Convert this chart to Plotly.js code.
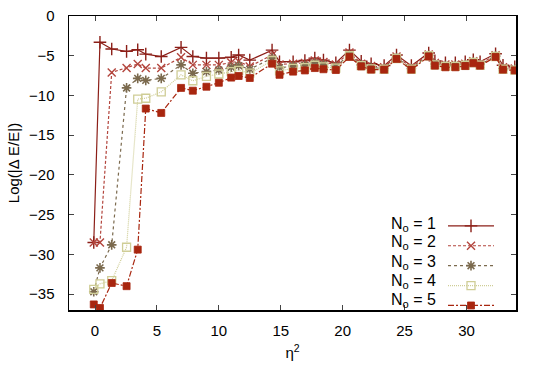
<!DOCTYPE html>
<html>
<head>
<meta charset="utf-8">
<script src="https://cdn.plot.ly/plotly-3.0.1.min.js"></script>
<style>
  html, body { margin: 0; padding: 0; background: #fff; }
  #chart { width: 540px; height: 372px; }
</style>
</head>
<body>
<div id="chart"></div>
<script>
// eta^2 values shared by every curve
const eta2 = [-0.1, 0.4, 1.35, 2.55, 3.45, 4.1, 5.35, 6.95, 7.9, 9.0, 10.0, 11.0, 11.6, 12.5,
  14.3, 14.9, 16.0, 16.95, 17.75, 18.45, 19.45, 20.55, 21.5, 22.3, 23.35, 24.35, 25.55,
  26.95, 27.45, 28.3, 29.1, 29.9, 30.55, 31.1, 32.35, 32.95, 33.9];

const no1 = [-28.5, -3.3, -4.15, -4.45, -4.25, -4.8, -5.1, -3.95, -5.1, -5.3, -5.3, -5.2, -4.9, -5.55,
  -4.3, -5.75, -5.75, -5.6, -5.3, -5.55, -5.9, -4.3, -5.7, -6.0, -6.25, -4.9, -6.25,
  -4.65, -5.65, -5.9, -5.9, -5.75, -5.5, -5.75, -4.75, -6.2, -6.4];
const no2 = [-28.5, -28.5, -7.1, -6.55, -6.05, -6.55, -6.55, -5.2, -6.15, -6.15, -6.15, -5.85, -5.7, -6.35,
  -4.9, -6.1, -6.0, -5.9, -5.6, -5.8, -6.1, -4.6, -6.0, -6.3, -6.45, -5.1, -6.45,
  -4.85, -5.9, -6.1, -6.1, -6.0, -5.7, -6.0, -4.95, -6.45, -6.6];
const no3 = [-34.7, -31.7, -28.8, -9.05, -7.85, -8.1, -7.85, -6.15, -7.2, -7.0, -6.8, -6.45, -6.25, -6.7,
  -5.3, -6.5, -6.3, -6.2, -5.9, -6.1, -6.35, -4.85, -6.15, -6.5, -6.6, -5.25, -6.6,
  -4.95, -6.05, -6.25, -6.25, -6.1, -5.8, -6.1, -5.05, -6.6, -6.7];
const no4 = [-34.4, -33.7, -33.3, -29.1, -10.45, -10.35, -9.55, -7.4, -8.15, -7.6, -7.3, -7.0, -6.85, -7.2,
  -5.6, -6.9, -6.6, -6.5, -6.2, -6.4, -6.55, -5.0, -6.25, -6.65, -6.7, -5.35, -6.7,
  -5.0, -6.15, -6.35, -6.35, -6.2, -5.85, -6.2, -5.1, -6.7, -6.8];
const no5 = [-36.3, -36.75, -33.6, -34.0, -29.4, -11.65, -12.2, -9.05, -9.4, -8.9, -8.4, -7.75, -7.55, -7.8,
  -6.0, -7.4, -7.0, -6.85, -6.55, -6.7, -6.8, -5.15, -6.35, -6.75, -6.75, -5.4, -6.75,
  -5.1, -6.25, -6.45, -6.45, -6.3, -5.95, -6.25, -5.15, -6.75, -6.85];

const labels = ["N<sub>o</sub> = 1", "N<sub>o</sub> = 2", "N<sub>o</sub> = 3", "N<sub>o</sub> = 4", "N<sub>o</sub> = 5"];

const font = "Liberation Sans, Arial, Helvetica, sans-serif";

function curve(y, color, dash, symbol, size, lw) {
  return {
    x: eta2, y: y, type: "scatter", mode: "lines+markers", name: " ",
    line: { color: color, width: 1.2, dash: dash },
    marker: { symbol: symbol, size: size, color: color, line: { color: color, width: lw } },
  };
}

const traces = [
  curve(no1, "#8c1f18", "solid", "cross-thin", 9, 1.4),
  curve(no2, "#b3453d", "3px,2px", "x-thin", 8, 1.4),
  curve(no3, "#7b6a4e", "dot", "asterisk", 8, 1.6),
  curve(no4, "#cfcd96", "1px,1px", "square-open", 8, 1.3),
  curve(no5, "#a8260f", "6px,2px,2px,2px", "square", 7, 0.8),
];

// legend text sits left of the symbols, as in the original
const legendY = [0.2925, 0.228, 0.163, 0.0986, 0.034];
const annotations = labels.map((t, i) => ({
  text: t, xref: "paper", yref: "paper", x: 0.826, y: legendY[i],
  xanchor: "right", yanchor: "middle", showarrow: false,
  font: { family: font, size: 16, color: "#000" },
}));

const layout = {
  width: 540, height: 372,
  margin: { l: 69, r: 24, t: 16, b: 62 },
  paper_bgcolor: "#fff", plot_bgcolor: "#fff",
  font: { family: font, size: 15, color: "#000" },
  showlegend: true,
  legend: {
    x: 0.8367, y: 0.337, xanchor: "left", yanchor: "top",
    bgcolor: "rgba(0,0,0,0)", font: { size: 13 }, itemwidth: 46, tracegroupgap: 0,
  },
  xaxis: {
    range: [-2.1, 34], dtick: 5, tick0: 0,
    ticks: "inside", ticklen: 5, mirror: "ticks",
    showline: true, linecolor: "#000", linewidth: 1.5, showgrid: false, zeroline: false,
    ticklabelstandoff: 6,
    title: { text: "η<sup>2</sup>", font: { size: 15 }, standoff: 10 },
  },
  yaxis: {
    range: [-37, 0], dtick: 5, tick0: 0,
    ticks: "inside", ticklen: 5, mirror: "ticks",
    showline: true, linecolor: "#000", linewidth: 1.5, showgrid: false, zeroline: false,
    ticklabelstandoff: 10,
    title: { text: "Log(|Δ E/E|)", font: { size: 15 }, standoff: 6 },
  },
  annotations: annotations,
};

Plotly.newPlot("chart", traces, layout, { displayModeBar: false, staticPlot: true });
</script>
</body>
</html>
